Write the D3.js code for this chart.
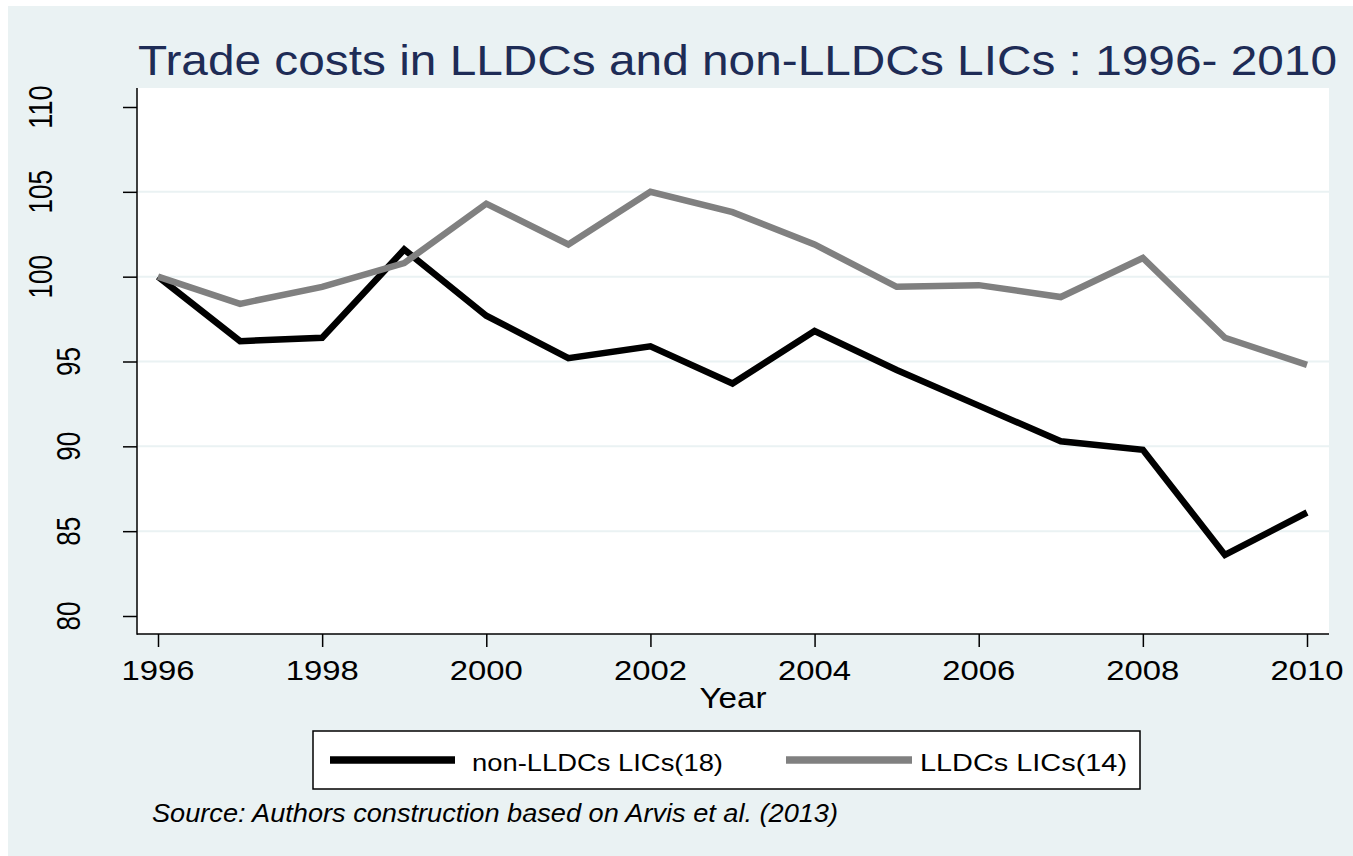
<!DOCTYPE html>
<html>
<head>
<meta charset="utf-8">
<script src="https://cdn.jsdelivr.net/npm/d3@7"></script>
<style>
html,body{margin:0;padding:0;background:#fff;}
text{font-family:"Liberation Sans",Arial,sans-serif;}
</style>
</head>
<body>
<svg id="chart" width="1353" height="856"></svg>
<script>
const years = [1996,1997,1998,1999,2000,2001,2002,2003,2004,2005,2006,2007,2008,2009,2010];
const nonLLDC = [100,96.2,96.4,101.6,97.7,95.2,95.9,93.7,96.8,94.5,92.4,90.3,89.8,83.6,86.1];
const LLDC = [100,98.4,99.4,100.8,104.3,101.9,105.0,103.8,101.9,99.4,99.5,98.8,101.1,96.4,94.8];
const xTicks = [1996,1998,2000,2002,2004,2006,2008,2010];
const yTicks = [80,85,90,95,100,105,110];
const gridTicks = [85,90,95,100,105];
const seriesNames = ["non-LLDCs LICs(18)","LLDCs LICs(14)"];
const seriesColors = ["#000000","#808080"];
const titleText = "Trade costs in LLDCs and non-LLDCs LICs : 1996- 2010";
const xTitle = "Year";
const sourceText = "Source: Authors construction based on Arvis et al. (2013)";

const svg = d3.select("#chart");
svg.append("rect").attr("x",8).attr("y",6).attr("width",1353-8).attr("height",856-6).attr("fill","#EAF2F3");
const plot = {left:137, right:1329, top:88, bottom:634};
svg.append("rect").attr("x",plot.left).attr("y",plot.top).attr("width",plot.right-plot.left).attr("height",plot.bottom-plot.top).attr("fill","#ffffff");

const x = d3.scaleLinear().domain([1996,2010]).range([158,1307]);
const y = d3.scaleLinear().domain([80,110]).range([616,107]);

svg.append("g").selectAll("line").data(gridTicks).join("line")
  .attr("x1",plot.left+1).attr("x2",plot.right)
  .attr("y1",d=>y(d)).attr("y2",d=>y(d))
  .attr("stroke","#EAF2F3").attr("stroke-width",2);

const yAxis = d3.axisLeft(y).tickValues(yTicks).tickSize(14).tickFormat("");
const gy = svg.append("g").attr("transform",`translate(${plot.left},0)`).call(yAxis);
gy.select(".domain").remove();
gy.selectAll("line").attr("stroke","#000").attr("stroke-width",1.5);
svg.append("line").attr("x1",plot.left).attr("x2",plot.left).attr("y1",plot.top).attr("y2",plot.bottom+0.75).attr("stroke","#000").attr("stroke-width",1.5);

const xAxis = d3.axisBottom(x).tickValues(xTicks).tickSize(13).tickFormat("");
const gx = svg.append("g").attr("transform",`translate(0,${plot.bottom})`).call(xAxis);
gx.select(".domain").remove();
gx.selectAll("line").attr("stroke","#000").attr("stroke-width",1.5);
svg.append("line").attr("x1",plot.left).attr("x2",plot.right).attr("y1",plot.bottom).attr("y2",plot.bottom).attr("stroke","#000").attr("stroke-width",1.5);

svg.append("g").selectAll("text").data(xTicks).join("text")
  .attr("x",d=>x(d)).attr("y",680).attr("text-anchor","middle")
  .attr("font-size",28).attr("fill","#000")
  .attr("textLength",73).attr("lengthAdjust","spacingAndGlyphs")
  .text(d=>d);

svg.append("g").selectAll("text").data(yTicks).join("text")
  .attr("transform",d=>{const s=String(d); const bx = s.length>2?52:80; return `translate(${bx},${y(d)}) rotate(-90)`;})
  .attr("text-anchor","middle").attr("font-size",33.5).attr("fill","#000")
  .attr("textLength",d=>String(d).length*14.5).attr("lengthAdjust","spacingAndGlyphs")
  .text(d=>d);

const line = d3.line().x((d,i)=>x(years[i])).y(d=>y(d));
[nonLLDC, LLDC].forEach((s,k)=>{
  svg.append("path").datum(s).attr("d",line).attr("fill","none")
    .attr("stroke",seriesColors[k]).attr("stroke-width",6.5).attr("stroke-linejoin","miter");
});

svg.append("text").attr("x",138).attr("y",75).attr("font-size",42).attr("fill","#1E2C56")
  .attr("textLength",1199).attr("lengthAdjust","spacingAndGlyphs").text(titleText);

svg.append("text").attr("x",733).attr("y",708).attr("text-anchor","middle").attr("font-size",29).attr("fill","#000")
  .attr("textLength",67).attr("lengthAdjust","spacingAndGlyphs").text(xTitle);

svg.append("rect").attr("x",313).attr("y",731).attr("width",1140-313).attr("height",789-731)
  .attr("fill","#fff").attr("stroke","#000").attr("stroke-width",1.5);
const legItems = [
  {lx1:330,lx2:455,tx:472,tl:251},
  {lx1:786,lx2:912,tx:920,tl:207}
];
legItems.forEach((it,k)=>{
  svg.append("line").attr("x1",it.lx1).attr("x2",it.lx2).attr("y1",760).attr("y2",760)
    .attr("stroke",seriesColors[k]).attr("stroke-width",7.5);
  svg.append("text").attr("x",it.tx).attr("y",771).attr("font-size",24.5).attr("fill","#000")
    .attr("textLength",it.tl).attr("lengthAdjust","spacingAndGlyphs").text(seriesNames[k]);
});

svg.append("text").attr("x",152).attr("y",822).attr("font-size",25).attr("font-style","italic").attr("fill","#000")
  .attr("textLength",686).attr("lengthAdjust","spacingAndGlyphs").text(sourceText);
</script>
</body>
</html>
